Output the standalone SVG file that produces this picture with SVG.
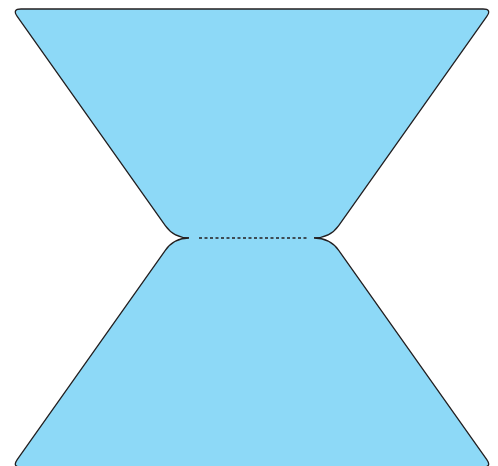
<svg xmlns="http://www.w3.org/2000/svg" width="498" height="466" viewBox="0 0 498 466">
<style>
.shape{fill:#8dd9f7;stroke:none}
.edge{fill:none;stroke:#231f20;stroke-width:1.3;stroke-linejoin:round}
.neck{fill:none;stroke:#231f20;stroke-width:1.3;stroke-dasharray:3 2.5}
</style>
<rect width="498" height="466" fill="#ffffff"/>
<g id="top">
<path class="shape" d="M 189,238 Q 174,238 165.3,225.7 L 17.2,16.4 Q 12,9 21,9 L 483,9 Q 492,9 486.8,16.4 L 338.7,225.7 Q 330,238 314,238 Z"/>
<path class="edge" d="M 189,238 Q 174,238 165.3,225.7 L 17.2,16.4 Q 12,9 21,9 L 483,9 Q 492,9 486.8,16.4 L 338.7,225.7 Q 330,238 314,238"/>
</g>
<g id="bottom">
<path class="shape" d="M 189,238 Q 174,238 165.3,250.3 L 17.2,459.6 Q 12,467 21,467 L 483,467 Q 492,467 486.8,459.6 L 338.7,250.3 Q 330,238 314,238 Z"/>
<path class="edge" d="M 189,238 Q 174,238 165.3,250.3 L 17.2,459.6 Q 12,467 21,467 L 483,467 Q 492,467 486.8,459.6 L 338.7,250.3 Q 330,238 314,238"/>
</g>
<g id="connectors">
<line class="neck" x1="199" y1="238" x2="309" y2="238"/>
</g>
</svg>
